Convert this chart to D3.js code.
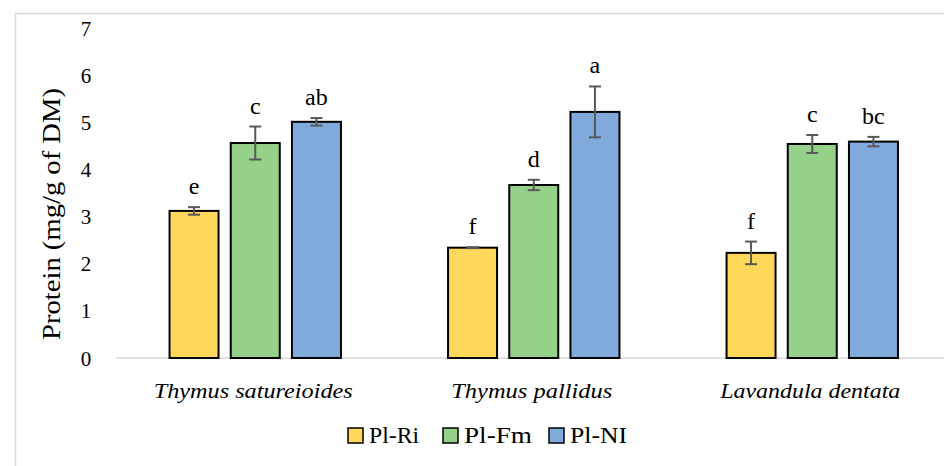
<!DOCTYPE html>
<html><head><meta charset="utf-8">
<script src="https://cdn.jsdelivr.net/npm/d3@7"></script>
<style>body{margin:0;background:#fff}svg{display:block}</style>
</head><body>
<script>
const categories = ["Thymus satureioides","Thymus pallidus","Lavandula dentata"];
const series = ["Pl-Ri","Pl-Fm","Pl-NI"];
const colors = ["#FFD75A","#96D18A","#80AADC"];
const values = [[3.12,4.56,5.01],[2.34,3.67,5.22],[2.23,4.54,4.59]];
const errors = [[0.08,0.35,0.08],[0.01,0.11,0.54],[0.24,0.19,0.10]];
const letters = [["e","c","ab"],["f","d","a"],["f","c","bc"]];
const yTicks = [0,1,2,3,4,5,6,7];

const W=944,H=466;
const svg=d3.select("body").append("svg").attr("width",W).attr("height",H);
const font="'Liberation Serif','Times New Roman',serif";
svg.append("rect").attr("x",15.5).attr("y",13.5).attr("width",W).attr("height",H).attr("fill","none").attr("stroke","#d9d9d9").attr("stroke-width",1.5);

const m={l:116,r:951.5,t:28,b:358};
const x0=d3.scaleBand().domain(categories).range([m.l,m.r]).paddingInner(0).paddingOuter(0);
const y=d3.scaleLinear().domain([0,7]).range([m.b,m.t]);
const bw=49, gap=12.2;
const x1=d3.scaleBand().domain(series).range([-(bw*1.5+gap),(bw*1.5+gap)]).paddingInner(gap/(bw+gap)).paddingOuter(0);

// y tick labels
const ya=svg.append("g").attr("transform",`translate(${m.l-25},0)`)
  .call(d3.axisLeft(y).tickValues(yTicks).tickSize(0).tickPadding(0).tickFormat(d3.format("d")));
ya.select(".domain").remove();
ya.selectAll("text").attr("font-family",font).attr("font-size",21).attr("fill","#000").attr("text-anchor","middle").attr("dx",-5).attr("dy","0.34em");

// baseline
svg.append("line").attr("x1",m.l).attr("x2",W).attr("y1",y(0)).attr("y2",y(0)).attr("stroke","#d9d9d9").attr("stroke-width",1.5);

const catLen=[199,161,180];
const g=svg.append("g");
categories.forEach((c,ci)=>{
  const cx=x0(c)+x0.bandwidth()/2;
  series.forEach((s,si)=>{
    const v=values[ci][si], e=errors[ci][si];
    const bx=cx+x1(s);
    g.append("rect").attr("x",bx).attr("y",y(v)).attr("width",x1.bandwidth()).attr("height",y(0)-y(v))
      .attr("fill",colors[si]).attr("stroke","#000").attr("stroke-width",2);
    const ex=bx+x1.bandwidth()/2;
    const eg=g.append("g").attr("stroke","#595959").attr("stroke-width",2);
    eg.append("line").attr("x1",ex).attr("x2",ex).attr("y1",y(v+e)).attr("y2",y(v-e));
    eg.append("line").attr("x1",ex-6).attr("x2",ex+6).attr("y1",y(v+e)).attr("y2",y(v+e));
    eg.append("line").attr("x1",ex-6).attr("x2",ex+6).attr("y1",y(v-e)).attr("y2",y(v-e));
    g.append("text").attr("x",ex).attr("y",y(v+e)-13).attr("text-anchor","middle")
      .attr("font-family",font).attr("font-size",24).text(letters[ci][si]);
  });
  g.append("text").attr("x",cx-2).attr("y",398).attr("text-anchor","middle").attr("font-family",font)
    .attr("font-style","italic").attr("font-size",22).attr("textLength",catLen[ci]).attr("lengthAdjust","spacingAndGlyphs").text(c);
});

// y title
svg.append("text").attr("transform","translate(60,214) rotate(-90)").attr("text-anchor","middle")
  .attr("font-family",font).attr("font-size",26).attr("textLength",252).attr("lengthAdjust","spacingAndGlyphs").text("Protein (mg/g of DM)");

// legend
const lx=[348,443,549];
const legLen=[50,68,57];
series.forEach((s,i)=>{
  svg.append("rect").attr("x",lx[i]).attr("y",428).attr("width",15).attr("height",15)
    .attr("fill",colors[i]).attr("stroke","#000").attr("stroke-width",1.5);
  svg.append("text").attr("x",lx[i]+21).attr("y",443).attr("font-family",font).attr("font-size",23)
    .attr("textLength",legLen[i]).attr("lengthAdjust","spacingAndGlyphs").text(s);
});
</script>
</body></html>
